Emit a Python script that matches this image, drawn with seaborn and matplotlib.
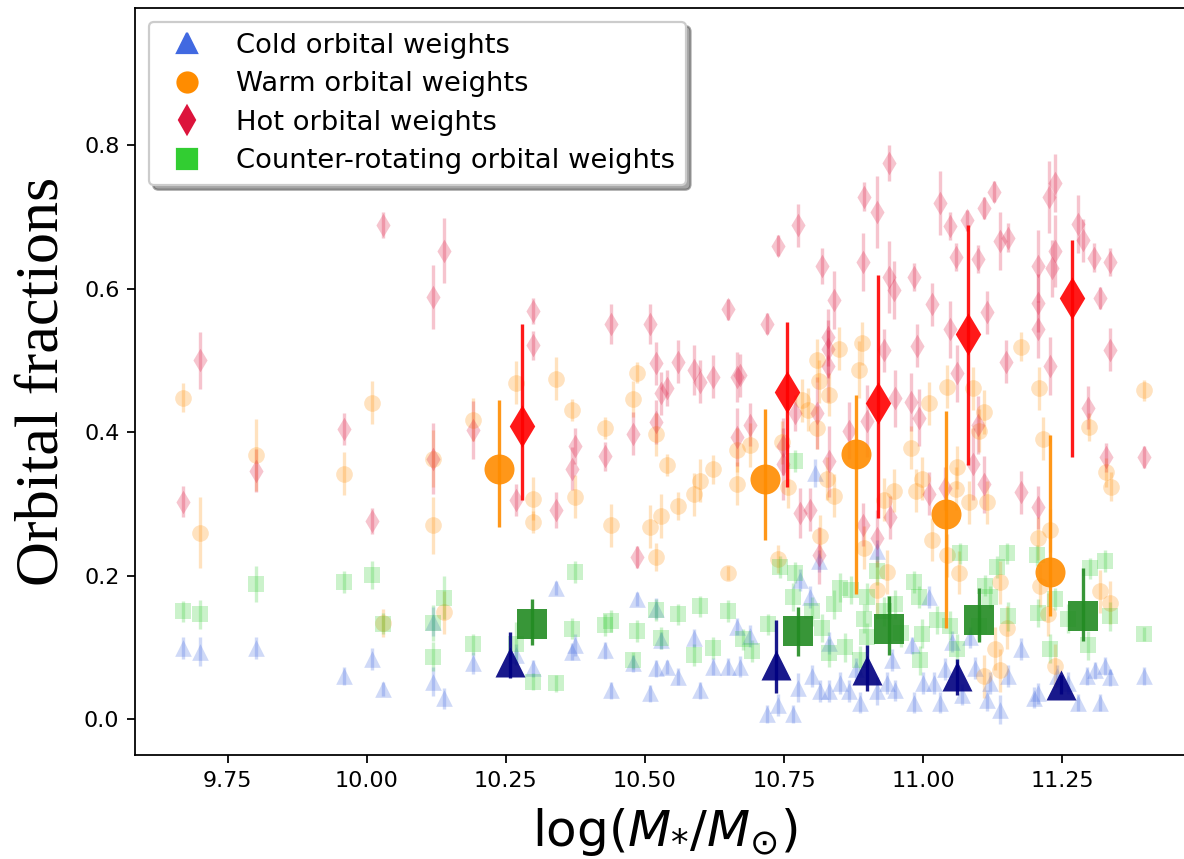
import matplotlib
matplotlib.use("Agg")
import matplotlib.pyplot as plt
from matplotlib.lines import Line2D
import seaborn as sns
import pandas as pd

# ---- individual galaxies: (log stellar mass, orbital fraction, 1-sigma error) ----
cold_pts = [
    (9.670, 0.099, 0.015), (9.700, 0.094, 0.020), (9.800, 0.099, 0.015), (9.959, 0.060, 0.012),
    (10.010, 0.084, 0.015), (10.029, 0.042, 0.010), (10.119, 0.136, 0.020), (10.119, 0.052, 0.020),
    (10.138, 0.029, 0.015), (10.191, 0.078, 0.015), (10.269, 0.090, 0.015), (10.299, 0.071, 0.012),
    (10.340, 0.183, 0.010), (10.369, 0.094, 0.012), (10.375, 0.103, 0.015), (10.429, 0.096, 0.012),
    (10.439, 0.040, 0.012), (10.479, 0.078, 0.012), (10.485, 0.167, 0.010), (10.509, 0.036, 0.012),
    (10.520, 0.071, 0.012), (10.520, 0.154, 0.015), (10.529, 0.110, 0.012), (10.539, 0.073, 0.010),
    (10.559, 0.059, 0.012), (10.589, 0.113, 0.012), (10.599, 0.040, 0.012), (10.623, 0.073, 0.012),
    (10.649, 0.073, 0.012), (10.665, 0.129, 0.012), (10.671, 0.073, 0.015), (10.689, 0.116, 0.015),
    (10.719, 0.007, 0.012), (10.740, 0.020, 0.015), (10.767, 0.007, 0.012), (10.776, 0.044, 0.020),
    (10.779, 0.194, 0.015), (10.797, 0.170, 0.015), (10.806, 0.343, 0.020), (10.813, 0.220, 0.015),
    (10.815, 0.039, 0.015), (10.830, 0.039, 0.015), (10.830, 0.106, 0.015), (10.866, 0.039, 0.015),
    (10.887, 0.023, 0.015), (10.917, 0.039, 0.020), (10.935, 0.050, 0.015), (10.917, 0.234, 0.015),
    (10.944, 0.082, 0.015), (10.980, 0.103, 0.012), (10.983, 0.023, 0.015), (11.010, 0.170, 0.015),
    (11.019, 0.050, 0.015), (11.031, 0.023, 0.015), (11.052, 0.108, 0.015), (11.070, 0.034, 0.015),
    (11.085, 0.114, 0.015), (11.094, 0.071, 0.015), (11.115, 0.026, 0.015), (11.139, 0.013, 0.020),
    (11.153, 0.060, 0.015), (11.177, 0.098, 0.015), (11.207, 0.036, 0.015), (11.279, 0.023, 0.012),
    (11.294, 0.060, 0.012), (11.309, 0.068, 0.012), (11.318, 0.023, 0.012), (11.327, 0.074, 0.012),
    (11.336, 0.058, 0.012), (11.398, 0.060, 0.012), (10.800, 0.060, 0.015), (10.850, 0.050, 0.015),
    (10.880, 0.070, 0.015), (10.950, 0.040, 0.015), (11.000, 0.050, 0.015), (11.040, 0.070, 0.015),
    (11.120, 0.050, 0.015), (11.200, 0.030, 0.015), (11.240, 0.060, 0.015), (11.260, 0.050, 0.015),
]

warm_pts = [
    (9.670, 0.448, 0.020), (9.700, 0.260, 0.050), (9.800, 0.368, 0.050), (9.959, 0.342, 0.030),
    (10.010, 0.441, 0.030), (10.029, 0.134, 0.020), (10.119, 0.270, 0.040), (10.119, 0.363, 0.040),
    (10.138, 0.149, 0.030), (10.191, 0.417, 0.030), (10.269, 0.469, 0.030), (10.299, 0.307, 0.030),
    (10.299, 0.275, 0.015), (10.340, 0.474, 0.030), (10.369, 0.431, 0.015), (10.375, 0.310, 0.030),
    (10.429, 0.406, 0.015), (10.439, 0.270, 0.030), (10.479, 0.446, 0.025), (10.485, 0.483, 0.015),
    (10.509, 0.268, 0.030), (10.520, 0.397, 0.030), (10.520, 0.226, 0.020), (10.529, 0.283, 0.030),
    (10.539, 0.354, 0.015), (10.559, 0.297, 0.020), (10.589, 0.313, 0.030), (10.599, 0.332, 0.030),
    (10.623, 0.348, 0.020), (10.649, 0.204, 0.010), (10.665, 0.375, 0.030), (10.665, 0.328, 0.030),
    (10.689, 0.382, 0.030), (10.739, 0.223, 0.020), (10.746, 0.386, 0.030), (10.758, 0.324, 0.030),
    (10.782, 0.444, 0.030), (10.794, 0.431, 0.030), (10.809, 0.406, 0.030), (10.810, 0.500, 0.030),
    (10.813, 0.471, 0.030), (10.815, 0.255, 0.030), (10.827, 0.335, 0.030), (10.830, 0.452, 0.030),
    (10.840, 0.311, 0.030), (10.849, 0.516, 0.030), (10.885, 0.487, 0.040), (10.891, 0.524, 0.030),
    (10.893, 0.239, 0.030), (10.918, 0.180, 0.040), (10.930, 0.306, 0.030), (10.935, 0.205, 0.030),
    (10.948, 0.318, 0.030), (10.978, 0.378, 0.030), (10.987, 0.318, 0.030), (10.998, 0.335, 0.030),
    (11.011, 0.440, 0.030), (11.016, 0.250, 0.030), (11.043, 0.463, 0.030), (11.043, 0.228, 0.030),
    (11.059, 0.321, 0.030), (11.061, 0.351, 0.030), (11.064, 0.204, 0.030), (11.083, 0.302, 0.030),
    (11.089, 0.461, 0.030), (11.100, 0.402, 0.030), (11.109, 0.428, 0.030), (11.109, 0.060, 0.030),
    (11.115, 0.302, 0.030), (11.130, 0.098, 0.030), (11.139, 0.191, 0.030), (11.139, 0.068, 0.030),
    (11.151, 0.127, 0.030), (11.176, 0.519, 0.020), (11.207, 0.252, 0.030), (11.209, 0.461, 0.030),
    (11.210, 0.186, 0.030), (11.215, 0.391, 0.030), (11.225, 0.146, 0.030), (11.228, 0.263, 0.030),
    (11.237, 0.074, 0.030), (11.299, 0.407, 0.020), (11.318, 0.178, 0.030), (11.329, 0.344, 0.020),
    (11.336, 0.162, 0.030), (11.338, 0.324, 0.020), (11.398, 0.458, 0.015),
]

hot_pts = [
    (9.670, 0.303, 0.022), (9.700, 0.500, 0.040), (9.800, 0.346, 0.030), (9.959, 0.404, 0.022),
    (10.010, 0.276, 0.018), (10.029, 0.689, 0.018), (10.119, 0.588, 0.045), (10.119, 0.363, 0.050),
    (10.138, 0.653, 0.045), (10.191, 0.403, 0.040), (10.269, 0.305, 0.022), (10.299, 0.569, 0.018),
    (10.299, 0.521, 0.020), (10.340, 0.292, 0.025), (10.369, 0.349, 0.030), (10.375, 0.381, 0.025),
    (10.429, 0.366, 0.020), (10.439, 0.551, 0.028), (10.479, 0.398, 0.030), (10.485, 0.226, 0.015),
    (10.509, 0.551, 0.028), (10.520, 0.496, 0.030), (10.520, 0.414, 0.030), (10.529, 0.454, 0.030),
    (10.539, 0.461, 0.025), (10.559, 0.498, 0.030), (10.589, 0.486, 0.035), (10.599, 0.470, 0.030),
    (10.623, 0.477, 0.030), (10.649, 0.571, 0.015), (10.665, 0.477, 0.035), (10.665, 0.393, 0.040),
    (10.671, 0.479, 0.030), (10.688, 0.410, 0.030), (10.719, 0.551, 0.015), (10.739, 0.660, 0.015),
    (10.749, 0.380, 0.040), (10.749, 0.356, 0.050), (10.769, 0.426, 0.025), (10.776, 0.688, 0.030),
    (10.779, 0.287, 0.035), (10.797, 0.292, 0.030), (10.809, 0.427, 0.050), (10.813, 0.228, 0.040),
    (10.819, 0.631, 0.025), (10.829, 0.532, 0.040), (10.829, 0.516, 0.040), (10.829, 0.492, 0.050),
    (10.831, 0.359, 0.050), (10.839, 0.584, 0.040), (10.866, 0.402, 0.040), (10.892, 0.637, 0.040),
    (10.892, 0.271, 0.030), (10.894, 0.728, 0.020), (10.899, 0.415, 0.050), (10.918, 0.707, 0.050),
    (10.918, 0.252, 0.040), (10.929, 0.514, 0.030), (10.939, 0.775, 0.025), (10.939, 0.616, 0.050),
    (10.940, 0.281, 0.030), (10.948, 0.598, 0.040), (10.950, 0.447, 0.040), (10.978, 0.442, 0.040),
    (10.984, 0.616, 0.020), (10.989, 0.520, 0.030), (10.993, 0.420, 0.040), (11.010, 0.314, 0.030),
    (11.016, 0.578, 0.030), (11.031, 0.719, 0.045), (11.039, 0.322, 0.030), (11.048, 0.543, 0.040),
    (11.049, 0.687, 0.020), (11.059, 0.644, 0.020), (11.061, 0.482, 0.040), (11.079, 0.695, 0.015),
    (11.089, 0.356, 0.050), (11.099, 0.641, 0.020), (11.099, 0.410, 0.040), (11.109, 0.712, 0.015),
    (11.109, 0.327, 0.040), (11.115, 0.567, 0.030), (11.128, 0.735, 0.015), (11.139, 0.666, 0.040),
    (11.149, 0.498, 0.030), (11.153, 0.671, 0.020), (11.176, 0.316, 0.030), (11.207, 0.631, 0.050),
    (11.207, 0.580, 0.040), (11.207, 0.543, 0.040), (11.207, 0.295, 0.030), (11.227, 0.728, 0.050),
    (11.228, 0.492, 0.040), (11.231, 0.628, 0.040), (11.237, 0.747, 0.040), (11.237, 0.652, 0.050),
    (11.278, 0.690, 0.040), (11.288, 0.667, 0.030), (11.297, 0.434, 0.030), (11.308, 0.643, 0.020),
    (11.318, 0.587, 0.015), (11.329, 0.365, 0.020), (11.336, 0.637, 0.020), (11.337, 0.515, 0.030),
    (11.398, 0.365, 0.015),
]

cr_pts = [
    (9.670, 0.150, 0.015), (9.700, 0.146, 0.020), (9.800, 0.188, 0.025), (9.959, 0.191, 0.015),
    (10.010, 0.201, 0.020), (10.029, 0.133, 0.015), (10.119, 0.134, 0.025), (10.119, 0.087, 0.020),
    (10.138, 0.169, 0.030), (10.191, 0.104, 0.015), (10.269, 0.105, 0.030), (10.299, 0.052, 0.012),
    (10.340, 0.050, 0.012), (10.369, 0.126, 0.015), (10.375, 0.205, 0.015), (10.429, 0.131, 0.015),
    (10.439, 0.137, 0.015), (10.479, 0.082, 0.012), (10.485, 0.123, 0.015), (10.520, 0.152, 0.015),
    (10.528, 0.113, 0.015), (10.559, 0.146, 0.015), (10.589, 0.089, 0.015), (10.599, 0.157, 0.015),
    (10.623, 0.099, 0.015), (10.649, 0.151, 0.015), (10.677, 0.111, 0.015), (10.692, 0.095, 0.015),
    (10.722, 0.132, 0.015), (10.743, 0.212, 0.015), (10.767, 0.170, 0.020), (10.770, 0.204, 0.015),
    (10.770, 0.360, 0.015), (10.800, 0.150, 0.020), (10.818, 0.127, 0.020), (10.830, 0.092, 0.020),
    (10.840, 0.160, 0.020), (10.851, 0.183, 0.020), (10.860, 0.100, 0.020), (10.870, 0.180, 0.020),
    (10.887, 0.082, 0.020), (10.893, 0.140, 0.020), (10.899, 0.114, 0.020), (10.900, 0.170, 0.020),
    (10.917, 0.207, 0.020), (10.930, 0.150, 0.020), (10.950, 0.160, 0.020), (10.960, 0.120, 0.020),
    (10.983, 0.191, 0.015), (10.992, 0.170, 0.015), (10.995, 0.082, 0.020), (10.998, 0.119, 0.020),
    (11.025, 0.138, 0.020), (11.049, 0.130, 0.020), (11.061, 0.098, 0.020), (11.067, 0.231, 0.015),
    (11.100, 0.130, 0.020), (11.111, 0.186, 0.015), (11.120, 0.170, 0.015), (11.133, 0.212, 0.015),
    (11.151, 0.231, 0.015), (11.153, 0.143, 0.020), (11.204, 0.228, 0.015), (11.207, 0.148, 0.020),
    (11.228, 0.098, 0.020), (11.237, 0.167, 0.015), (11.260, 0.140, 0.020), (11.297, 0.103, 0.020),
    (11.300, 0.210, 0.015), (11.327, 0.220, 0.015), (11.336, 0.143, 0.020), (11.398, 0.119, 0.010),
]

# ---- binned medians with asymmetric spread (lower, upper bounds) ----
cold_bin_x = [10.258, 10.736, 10.899, 11.061, 11.248]
cold_bin_y = [0.079, 0.076, 0.068, 0.060, 0.047]
cold_bin_lo = [0.057, 0.036, 0.039, 0.033, 0.035]
cold_bin_hi = [0.122, 0.138, 0.103, 0.084, 0.062]

warm_bin_x = [10.238, 10.716, 10.879, 11.041, 11.228]
warm_bin_y = [0.348, 0.335, 0.369, 0.286, 0.205]
warm_bin_lo = [0.268, 0.250, 0.175, 0.127, 0.143]
warm_bin_hi = [0.445, 0.432, 0.451, 0.430, 0.396]

hot_bin_x = [10.278, 10.756, 10.919, 11.081, 11.268]
hot_bin_y = [0.409, 0.456, 0.440, 0.536, 0.587]
hot_bin_lo = [0.305, 0.323, 0.280, 0.354, 0.365]
hot_bin_hi = [0.551, 0.553, 0.619, 0.688, 0.668]

cr_bin_x = [10.297, 10.776, 10.939, 11.101, 11.288]
cr_bin_y = [0.133, 0.123, 0.125, 0.138, 0.143]
cr_bin_lo = [0.103, 0.088, 0.090, 0.108, 0.109]
cr_bin_hi = [0.168, 0.156, 0.171, 0.183, 0.210]

labels = ["Cold orbital weights", "Warm orbital weights",
          "Hot orbital weights", "Counter-rotating orbital weights"]
x_ticks = [9.75, 10.00, 10.25, 10.50, 10.75, 11.00, 11.25]
y_ticks = [0.0, 0.2, 0.4, 0.6, 0.8]

sns.set_style("ticks", {"axes.edgecolor": "black", "xtick.color": "black",
                        "ytick.color": "black", "xtick.direction": "out",
                        "ytick.direction": "out", "text.color": "black",
                        "axes.labelcolor": "black"})
plt.rcParams.update({
    "font.family": ["DejaVu Sans"],
    "axes.linewidth": 0.8,
    "xtick.major.size": 3.5, "ytick.major.size": 3.5,
    "xtick.major.width": 0.8, "ytick.major.width": 0.8,
    "xtick.labelsize": 10, "ytick.labelsize": 10,
    "text.color": "black", "axes.labelcolor": "black",
    "legend.labelcolor": "black",
})

fig = plt.figure(figsize=(7.4, 5.36875), dpi=160)
ax = fig.add_axes([0.1140, 0.1211, 0.8953, 0.8696])

faded = [
    (cold_pts, "royalblue", "^"),
    (warm_pts, "darkorange", "o"),
    (hot_pts, "crimson", "d"),
    (cr_pts, "limegreen", "s"),
]
for pts, col, mk in faded:
    df = pd.DataFrame(pts, columns=["mass", "frac", "err"])
    ax.errorbar(df["mass"], df["frac"], yerr=df["err"], fmt="none",
                ecolor=col, elinewidth=1.5, alpha=0.25, capsize=0, zorder=1)
    sns.scatterplot(data=df, x="mass", y="frac", marker=mk, color=col,
                    s=7.5 ** 2, alpha=0.25, linewidth=0, ax=ax, zorder=2,
                    legend=False)

binned = [
    (cold_bin_x, cold_bin_y, cold_bin_lo, cold_bin_hi, "navy", "^"),
    (warm_bin_x, warm_bin_y, warm_bin_lo, warm_bin_hi, "darkorange", "o"),
    (hot_bin_x, hot_bin_y, hot_bin_lo, hot_bin_hi, "red", "d"),
    (cr_bin_x, cr_bin_y, cr_bin_lo, cr_bin_hi, "forestgreen", "s"),
]
for bx, by, blo, bhi, col, mk in binned:
    dfb = pd.DataFrame({"mass": bx, "frac": by, "lo": blo, "hi": bhi})
    yerr = [dfb["frac"] - dfb["lo"], dfb["hi"] - dfb["frac"]]
    ax.errorbar(dfb["mass"], dfb["frac"], yerr=yerr, fmt="none", ecolor=col,
                elinewidth=1.5, alpha=0.9, capsize=0, zorder=3)
    sns.scatterplot(data=dfb, x="mass", y="frac", marker=mk, color=col,
                    s=13.5 ** 2, alpha=0.9, linewidth=0, ax=ax, zorder=4,
                    legend=False)

ax.set_xlim(9.583, 11.489)
ax.set_ylim(-0.050, 0.991)
ax.set_xticks(x_ticks)
ax.set_xticklabels([f"{t:.2f}" for t in x_ticks])
ax.set_yticks(y_ticks)
ax.set_yticklabels([f"{t:.1f}" for t in y_ticks])

ax.set_xlabel(r"$\log(M_{*}/M_{\odot})$", fontsize=22.5, labelpad=7,
              color="black")
ax.set_ylabel("Orbital fractions", fontsize=28, family="Liberation Serif",
              labelpad=6, color="black")

handles = [
    Line2D([], [], ls="none", marker="^", color="royalblue", ms=9),
    Line2D([], [], ls="none", marker="o", color="darkorange", ms=9),
    Line2D([], [], ls="none", marker="d", color="crimson", ms=9),
    Line2D([], [], ls="none", marker="s", color="limegreen", ms=9),
]
leg = ax.legend(handles, labels, loc="upper left", fontsize=12.3,
                labelspacing=0.46, shadow=True, fancybox=True, frameon=True,
                framealpha=1.0, edgecolor="0.8")
for t in leg.get_texts():
    t.set_color("black")

fig.savefig("out.png", dpi=160)
